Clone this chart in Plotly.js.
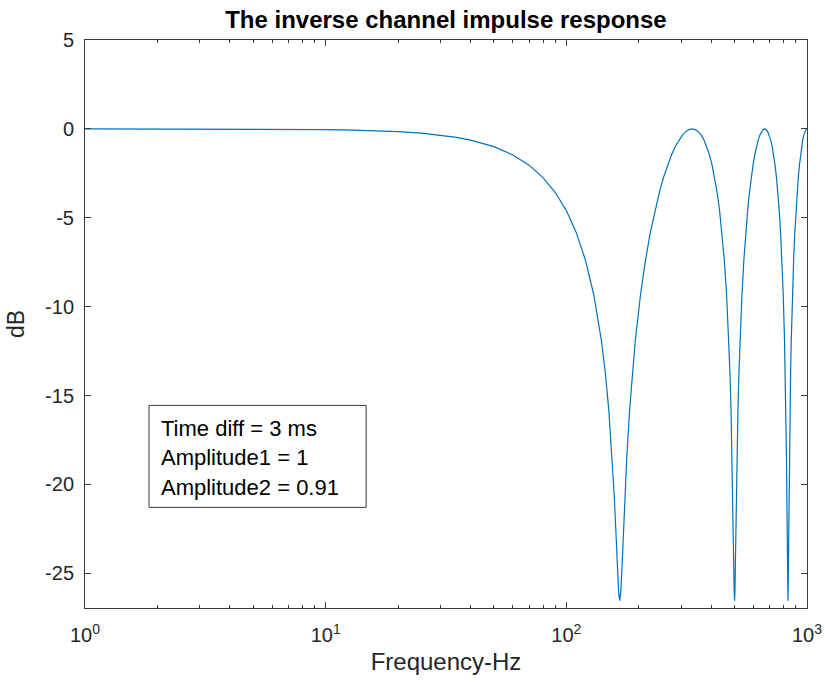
<!DOCTYPE html>
<html>
<head>
<meta charset="utf-8">
<script src="https://cdn.plot.ly/plotly-3.0.1.min.js"></script>
<style>html,body{margin:0;padding:0;background:#fff;}#chart{width:825px;height:683px;}</style>
</head>
<body>
<div id="chart"></div>
<script>
// Frequency (Hz) samples
const freqHz = [
  1,2,3,5,7,10,12,15,20,25,30,35,40,45,50,60,70,80,90,100,110,120,130,140,145,150,155,158,160,163,165,166.67,
  168.33,170.33,173.33,175.33,178.33,183.33,188.33,193.33,203.33,213.33,223.33,233.33,243.33,253.33,
  263.33,273.33,283.33,293.33,303.33,313.33,323.33,333.33,
  343.33,353.33,363.33,373.33,383.33,393.33,403.33,413.33,423.33,433.33,443.33,453.33,463.33,473.33,
  478.33,483.33,488.33,491.33,493.33,496.33,498.33,500,
  501.67,503.67,506.67,508.67,511.67,516.67,521.67,526.67,536.67,546.67,556.67,566.67,576.67,586.67,
  596.67,606.67,616.67,626.67,636.67,646.67,656.67,666.67,
  676.67,686.67,696.67,706.67,716.67,726.67,736.67,746.67,756.67,766.67,776.67,786.67,796.67,806.67,
  811.67,816.67,821.67,824.67,826.67,829.67,831.67,833.33,
  835,837,840,842,845,850,855,860,870,880,890,900,910,920,930,940,950,960,970,980,990,1000
];
// Magnitude (dB) at those frequencies
const magDb = [
  0,-0.002,-0.004,-0.010,-0.019,-0.039,-0.056,-0.087,-0.155,-0.243,-0.351,-0.480,-0.631,-0.804,-1.000,
  -1.466,-2.040,-2.737,-3.580,
  -4.597,-5.837,-7.373,-9.329,-11.943,-13.640,-15.746,-18.466,-20.526,-22.107,-24.670,-26.084,-26.537,
  -26.084,-24.670,-22.107,-20.526,-18.466,-15.746,-13.640,-11.943,-9.329,-7.373,-5.837,-4.597,-3.580,
  -2.737,-2.040,-1.466,-1.000,-0.631,-0.351,-0.155,-0.039,0,
  -0.039,-0.155,-0.351,-0.631,-1.000,-1.466,-2.040,-2.737,-3.580,-4.597,-5.837,-7.373,-9.329,-11.943,
  -13.640,-15.746,-18.466,-20.526,-22.107,-24.670,-26.084,-26.537,
  -26.084,-24.670,-22.107,-20.526,-18.466,-15.746,-13.640,-11.943,-9.329,-7.373,-5.837,-4.597,-3.580,
  -2.737,-2.040,-1.466,-1.000,-0.631,-0.351,-0.155,-0.039,0,
  -0.039,-0.155,-0.351,-0.631,-1.000,-1.466,-2.040,-2.737,-3.580,-4.597,-5.837,-7.373,-9.329,-11.943,
  -13.640,-15.746,-18.466,-20.526,-22.107,-24.670,-26.084,-26.537,
  -26.084,-24.670,-22.107,-20.526,-18.466,-15.746,-13.640,-11.943,-9.329,-7.373,-5.837,-4.597,-3.580,
  -2.737,-2.040,-1.466,-1.000,-0.631,-0.351,-0.155,-0.039,0
];
const xTickVals = [1,10,100,1000];
const xTickText = ['10<sup>0</sup>','10<sup>1</sup>','10<sup>2</sup>','10<sup>3</sup>'];
const xMinorVals = [2,3,4,5,6,7,8,9,20,30,40,50,60,70,80,90,200,300,400,500,600,700,800,900];
const yTickVals = [-25,-20,-15,-10,-5,0,5];
const yTickText = ['-25','-20','-15','-10','-5','0','5'];
const infoLines = ['Time diff = 3 ms','Amplitude1 = 1','Amplitude2 = 0.91'];

const axisColor = '#3a3a3a';
const textColor = '#262626';
const font = 'Liberation Sans, Arial, sans-serif';

const trace = {
  x: freqHz, y: magDb, type: 'scatter', mode: 'lines',
  line: {color: '#0072BD', width: 1.2}, hoverinfo: 'x+y'
};

const lineY = [0.3163, 0.2643, 0.2124];
const annotations = infoLines.map((t, i) => ({
  text: t, xref: 'paper', yref: 'paper', x: 0.1025, y: lineY[i],
  xanchor: 'left', yanchor: 'middle', showarrow: false,
  font: {family: font, size: 22, color: '#000'}
}));

const layout = {
  width: 825, height: 683,
  margin: {l: 85, r: 18, t: 40, b: 75},
  paper_bgcolor: '#fff', plot_bgcolor: '#fff',
  showlegend: false,
  font: {family: font, color: textColor},
  title: {
    text: 'The inverse channel impulse response',
    font: {family: font, size: 24, color: '#000', weight: 'bold'},
    x: 0.5405, xanchor: 'center', xref: 'container',
    y: 0.9707, yanchor: 'middle', yref: 'container'
  },
  xaxis: {
    type: 'log', range: [0, 3],
    tickmode: 'array', tickvals: xTickVals, ticktext: xTickText,
    ticks: 'inside', ticklen: 6, tickwidth: 1, tickcolor: axisColor,
    minor: {tickmode: 'array', tickvals: xMinorVals, ticks: 'inside', ticklen: 3, tickwidth: 1, tickcolor: axisColor, showgrid: false},
    showline: true, linecolor: axisColor, linewidth: 1, mirror: 'allticks',
    showgrid: false, zeroline: false,
    tickfont: {family: font, size: 20, color: textColor},
    ticklabelstandoff: 9,
    title: {text: 'Frequency-Hz', font: {family: font, size: 24, color: textColor}, standoff: 8}
  },
  yaxis: {
    range: [-26.95, 5],
    tickmode: 'array', tickvals: yTickVals, ticktext: yTickText,
    ticks: 'inside', ticklen: 6, tickwidth: 1, tickcolor: axisColor,
    showline: true, linecolor: axisColor, linewidth: 1, mirror: 'allticks',
    showgrid: false, zeroline: false,
    tickfont: {family: font, size: 20, color: textColor},
    ticklabelstandoff: 6,
    title: {text: 'dB', font: {family: font, size: 23, color: textColor}, standoff: 14}
  },
  shapes: [{
    type: 'rect', xref: 'paper', yref: 'paper',
    x0: 0.0887, x1: 0.3894, y0: 0.1772, y1: 0.3567,
    line: {color: axisColor, width: 1}, fillcolor: '#fff', layer: 'above'
  }],
  annotations: annotations
};

Plotly.newPlot('chart', [trace], layout, {displayModeBar: false, staticPlot: true});
</script>
</body>
</html>
